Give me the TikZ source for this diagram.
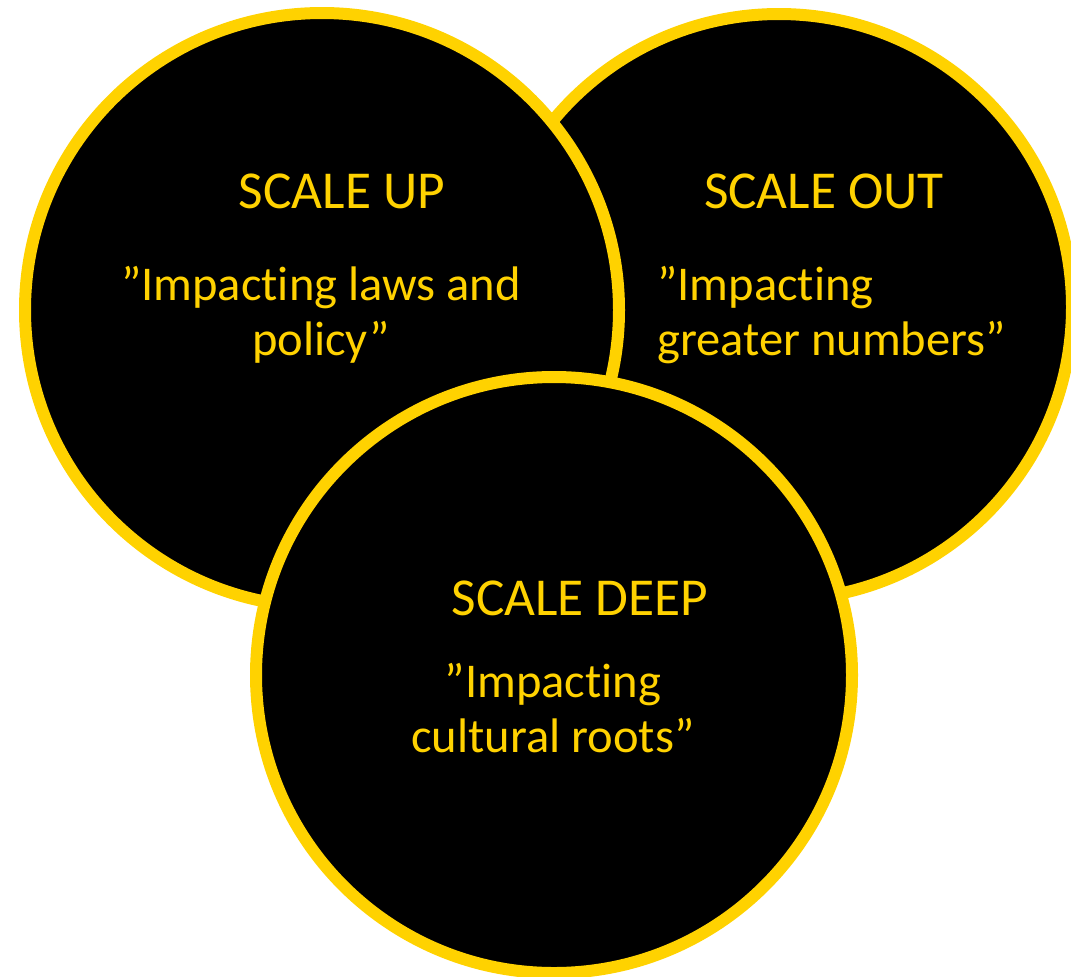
\documentclass[tikz,border=0pt]{standalone}
\usepackage{fontspec}
\setmainfont{Carlito}[Ligatures=NoCommon]
\definecolor{gold}{RGB}{255,210,0}
\tikzset{
  ring/.style={circle, draw=gold, fill=black, line width=9pt, inner sep=0pt},
  title/.style={text=gold, font=\fontsize{40}{40}\selectfont, anchor=base, inner sep=0pt},
  body/.style={text=gold, font=\fontsize{36.4}{40}\selectfont, anchor=base, inner sep=0pt},
}
\begin{document}
\begin{tikzpicture}[x=0.75pt,y=-0.75pt]
\useasboundingbox (0,0) rectangle (1071,976);
\clip (0,0) rectangle (1071,976);
\node[ring, minimum size=439.5pt] (out) at (779,307) {};
\node[ring, minimum size=445.5pt] (up) at (322,310) {};
\node[ring, minimum size=447pt] (deep) at (554,675) {};
% SCALE UP
\node[title] (upt) at (342,208) {SCALE UP};
\node[body] (upa) at (321,300) {”Impacting laws and};
\node[body] (upb) at (321,355) {policy”};
% SCALE OUT
\node[title] (outt) at (824,208) {SCALE OUT};
\node[body, anchor=base west] (outa) at (657,300) {”Impacting};
\node[body, anchor=base west] (outb) at (657,355) {greater numbers”};
% SCALE DEEP
\node[title] (deept) at (580,615) {SCALE DEEP};
\node[body] (deepa) at (553,697) {”Impacting};
\node[body] (deepb) at (553,752) {cultural roots”};
\end{tikzpicture}
\end{document}
